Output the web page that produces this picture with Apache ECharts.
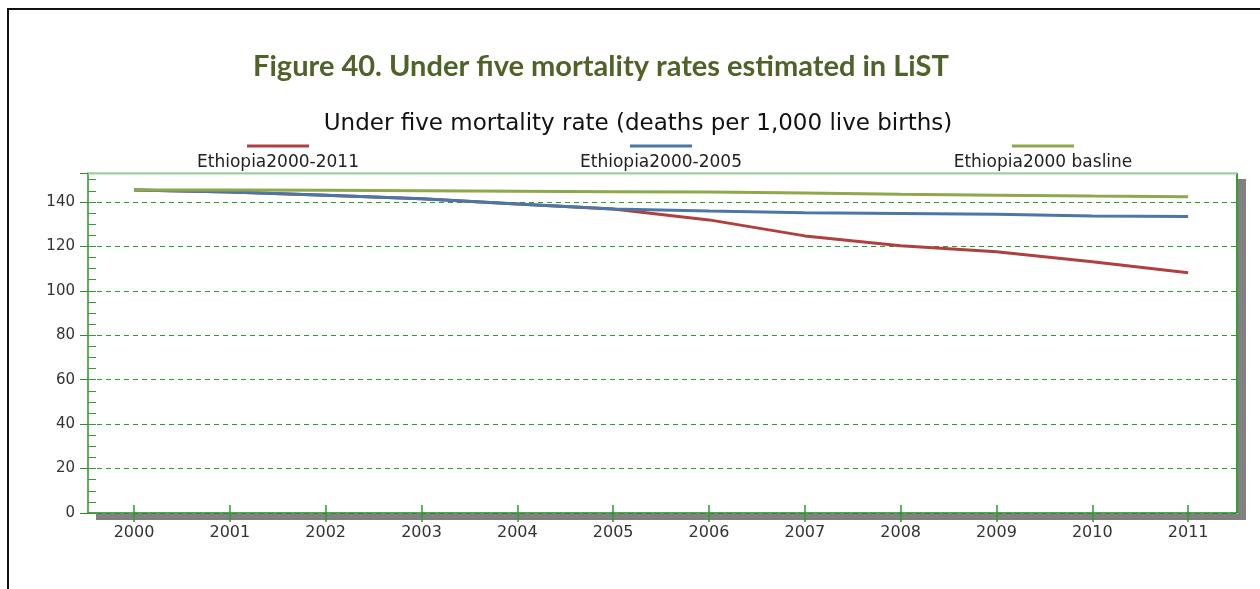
<!DOCTYPE html>
<html>
<head>
<meta charset="utf-8">
<script src="https://cdn.jsdelivr.net/npm/echarts@6/dist/echarts.min.js"></script>
<style>
  html, body { margin: 0; padding: 0; background: #fff; }
  #chart { width: 1260px; height: 589px; }
</style>
</head>
<body>
<div id="chart"></div>
<script>
// data
const years = [2000, 2001, 2002, 2003, 2004, 2005, 2006, 2007, 2008, 2009, 2010, 2011]
const seriesNames = ['Ethiopia2000-2011', 'Ethiopia2000-2005', 'Ethiopia2000 basline']
const seriesColors = ['#b0403f', '#4a77a8', '#8ea84c']
const ethiopia2000to2011 = [145.4, 144.5, 143.0, 141.4, 139.1, 136.8, 131.9, 124.7, 120.3, 117.6, 113.1, 108.1]
const ethiopia2000to2005 = [145.4, 144.5, 143.0, 141.4, 139.1, 136.8, 135.9, 135.1, 134.8, 134.4, 133.7, 133.4]
const ethiopiaBaseline = [145.4, 145.3, 145.2, 145.0, 144.8, 144.6, 144.4, 144.0, 143.4, 143.0, 142.6, 142.3]
const yTicks = [0, 20, 40, 60, 80, 100, 120, 140]

const allValues = [ethiopia2000to2011, ethiopia2000to2005, ethiopiaBaseline]
const pairs = vals => years.map((y, i) => [y, vals[i]])

const chart = echarts.init(document.getElementById('chart'))

// legend: short line above each name, as in the figure
const legendCenters = [278, 661, 1043]
const legendGraphics = []
seriesNames.forEach((name, i) => {
  legendGraphics.push({
    type: 'line',
    shape: { x1: legendCenters[i] - 31, y1: 146, x2: legendCenters[i] + 31, y2: 146 },
    style: { stroke: seriesColors[i], lineWidth: 3 }
  })
  legendGraphics.push({
    type: 'text',
    x: legendCenters[i],
    y: 163,
    style: {
      text: name,
      fill: '#222',
      font: '17px "DejaVu Sans"',
      align: 'center',
      verticalAlign: 'middle'
    }
  })
})

chart.setOption({
  animation: false,
  backgroundColor: '#fff',
  title: [
    {
      text: 'Figure 40. Under five mortality rates estimated in LiST',
      left: 596,
      top: 47,
      textAlign: 'center',
      textStyle: { color: '#4f6228', fontFamily: 'Lato', fontWeight: 'bold', fontSize: 29 }
    },
    {
      text: 'Under five mortality rate (deaths per 1,000 live births)',
      left: 633,
      top: 108,
      textAlign: 'center',
      textStyle: { color: '#111', fontFamily: 'DejaVu Sans', fontWeight: 'normal', fontSize: 23 }
    }
  ],
  graphic: [
    {
      type: 'rect',
      shape: { x: 8, y: 9, width: 1270, height: 600 },
      style: { fill: null, stroke: '#111', lineWidth: 2 },
      silent: true
    },
    // grey drop shadow on the right and bottom of the plot frame
    {
      type: 'rect',
      shape: { x: 1238, y: 179, width: 8, height: 341 },
      style: { fill: '#808080' },
      silent: true
    },
    {
      type: 'rect',
      shape: { x: 96, y: 514, width: 1150, height: 6 },
      style: { fill: '#808080' },
      silent: true
    },
    {
      type: 'line',
      shape: { x1: 1237, y1: 173, x2: 1237, y2: 513 },
      style: { stroke: '#3a9a3a', lineWidth: 2 },
      silent: true
    },
    // light top edge of the frame (covers the split line drawn at max)
    {
      type: 'line',
      z: 100,
      shape: { x1: 88, y1: 173.5, x2: 1237, y2: 173.5 },
      style: { stroke: '#9fd09f', lineWidth: 2 },
      silent: true
    },
    ...legendGraphics
  ],
  grid: {
    left: 88,
    top: 173,
    right: 23,
    bottom: 76,
    show: true,
    backgroundColor: '#fff',
    borderColor: '#9fd09f',
    borderWidth: 1
  },
  xAxis: [
    {
      type: 'value',
      min: 1999.52,
      max: 2011.51,
      axisLine: { lineStyle: { color: '#2e8b2e', width: 1.5 } },
      axisTick: { customValues: years, length: 9, lineStyle: { color: '#2e9b2e', width: 1.5 } },
      axisLabel: {
        customValues: years,
        color: '#333',
        fontFamily: 'DejaVu Sans',
        fontSize: 16,
        margin: 12,
        formatter: v => String(v)
      },
      splitLine: { show: false }
    },
    {
      type: 'value',
      min: 1999.52,
      max: 2011.51,
      position: 'bottom',
      axisLine: { show: false },
      axisTick: { customValues: years, inside: true, length: 8, lineStyle: { color: '#2e9b2e', width: 1.5 } },
      axisLabel: { show: false },
      splitLine: { show: false }
    }
  ],
  yAxis: [
    {
      type: 'value',
      min: 0,
      max: 153,
      interval: 20,
      axisLine: { show: true, lineStyle: { color: '#3a9a3a', width: 1.5 } },
      axisTick: { show: true, length: 8, lineStyle: { color: '#2e8b2e', width: 1 } },
      axisLabel: {
        color: '#333',
        fontFamily: 'DejaVu Sans',
        fontSize: 15,
        margin: 13,
        formatter: v => (yTicks.includes(v) ? String(v) : '')
      },
      splitLine: { show: true, lineStyle: { color: '#2aa02a', type: [5, 4], width: 1 } }
    },
    {
      type: 'value',
      min: 0,
      max: 153,
      interval: 5,
      position: 'left',
      axisLine: { show: false },
      axisTick: { show: true, inside: true, length: 8, lineStyle: { color: '#3a9a3a', width: 1 } },
      axisLabel: { show: false },
      splitLine: { show: false }
    }
  ],
  series: seriesNames.map((name, i) => ({
    name,
    type: 'line',
    data: pairs(allValues[i]),
    showSymbol: false,
    smooth: false,
    z: 2 + i,
    lineStyle: { color: seriesColors[i], width: 3 }
  }))
})
</script>
</body>
</html>
